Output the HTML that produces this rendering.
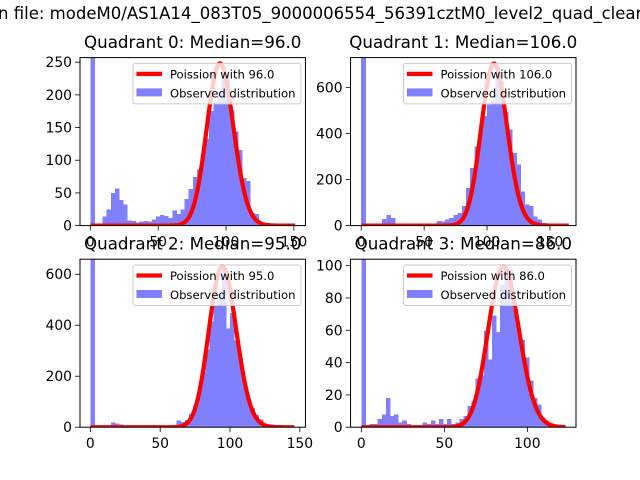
<!DOCTYPE html>
<html><head><meta charset="utf-8"><style>
html,body{margin:0;padding:0;background:#fff;}
svg{display:block;font-family:"DejaVu Sans","Liberation Sans",sans-serif;}
</style></head><body>
<svg id="fig" width="640" height="480" viewBox="0 0 640 480" xmlns="http://www.w3.org/2000/svg">
<rect width="640" height="480" fill="#fff"/>
<text x="-2" y="19" font-size="16.7" textLength="648" lengthAdjust="spacingAndGlyphs">n file: modeM0/AS1A14_083T05_9000006554_56391cztM0_level2_quad_clean</text>
</svg>
<script>
const titles = ["Quadrant 0: Median=96.0","Quadrant 1: Median=106.0","Quadrant 2: Median=95.0","Quadrant 3: Median=86.0"];
const medians = [96, 106, 95, 86];
const peaks = [248, 703, 631, 99.5];
const binWidths = [3.02, 3.33, 2.94, 2.46];
const curveMax = [151, 165, 146, 123];
const counts0 = [3000,0,0,14,25,50,57,39,32,8,7,5,6,7,6,9,14,16,15,12,23,18,25,41,56,74,86,106,133,175,190,205,225,230,176,144,116,73,68,19,18,0,0,0,0,0,0,0,0,0];
const counts1 = [3000,3,3,3,10,29,45,33,10,10,5,5,5,5,5,8,5,8,20,18,26,33,45,55,84,163,250,344,410,475,525,540,650,627,496,417,315,265,149,91,84,40,26,12,6,3,3,3,3,3];
const counts2 = [3000,2,2,2,5,18,14,10,3,3,3,3,3,3,3,3,3,3,3,3,6,26,20,29,52,85,133,216,305,415,477,523,620,388,448,340,272,166,114,75,48,30,13,8,4,2,2,2,2,2];
const counts3 = [3000,0,2,2,5,8,18,7,8,3,4,2,0,0,0,3,2,4,2,5,2,5,2,3,5,7,13,16,30,32,60,42,69,59,88,98,98,73,60,54,43,29,18,14,6,4,2,1,1,0];
const allCounts = [counts0, counts1, counts2, counts3];
const xlims = [[-7.6,158.5],[-8.5,170.7],[-7.4,154],[-6.5,129.3]];
const ylims = [257, 729, 659, 104];
const xticks = [[0,50,100,150],[0,50,100,150],[0,50,100,150],[0,50,100]];
const yticks = [[0,50,100,150,200,250],[0,200,400,600],[0,200,400,600],[0,20,40,60,80,100]];

const NS = "http://www.w3.org/2000/svg";
const svg = document.getElementById("fig");
function mk(tag, attrs, parent){const e=document.createElementNS(NS,tag);for(const k in attrs)e.setAttribute(k,attrs[k]);(parent||svg).appendChild(e);return e;}
const W=225.45,H=168;
const lefts=[80,350.55,80,350.55], tops=[57.6,57.6,259.2,259.2];
for(let q=0;q<4;q++){
  const L=lefts[q],T=tops[q];
  const [x0,x1]=xlims[q]; const ym=ylims[q];
  const sx=v=>L+(v-x0)/(x1-x0)*W;
  const sy=v=>T+H-v/ym*H;
  const g=mk("g",{});
  
  
  const cp=mk("clipPath",{id:"cp"+q},g); mk("rect",{x:L,y:T,width:W,height:H},cp);
  const bars=mk("g",{"clip-path":"url(#cp"+q+")","shape-rendering":"crispEdges"},g);
  const c=allCounts[q], bw=binWidths[q];
  for(let i=0;i<c.length;i++){
    if(c[i]<=0)continue;
    const xa=sx(i*bw), xb=sx((i+1)*bw);
    const r=mk("rect",{x:xa,y:sy(c[i]),width:xb-xa+0.5,height:sy(0)-sy(c[i]),fill:"#8080ff"},bars);
    
    
  }
  const mu=medians[q]; let p=Math.exp(-mu); const pts=[]; const ps=[p];
  for(let k=1;k<=curveMax[q];k++){p=p*mu/k;ps.push(p);}
  const pmax=Math.max(...ps);
  ps.forEach((v,k)=>pts.push(sx(k).toFixed(2)+","+sy(v/pmax*peaks[q]).toFixed(2)));
  const pl=mk("polyline",{points:pts.join(" "),fill:"none",stroke:"#ff0000","stroke-width":4.2,"stroke-linejoin":"round","clip-path":"url(#cp"+q+")"},g);
  
  
  const fr=mk("rect",{x:L,y:T,width:W,height:H,fill:"none",stroke:"#000","stroke-width":1},g);
  
  
  xticks[q].forEach(v=>{
    const x=sx(v);
    mk("line",{x1:x,x2:x,y1:T+H,y2:T+H+4.9,stroke:"#000","stroke-width":0.8},g);
    const t=mk("text",{x:x,y:T+H+21,"font-size":13.9,"text-anchor":"middle"},g); t.textContent=v;
    
    
  });
  yticks[q].forEach(v=>{
    const y=sy(v);
    mk("line",{x1:L-4.9,x2:L,y1:y,y2:y,stroke:"#000","stroke-width":0.8},g);
    const t=mk("text",{x:L-8,y:y+5,"font-size":13.9,"text-anchor":"end"},g); t.textContent=v;
    
    
  });
  const tt=mk("text",{x:L+W/2,y:T-9.5,"font-size":16.7,"text-anchor":"middle"},g); tt.textContent=titles[q];
  
  
  const lg=mk("g",{},g);
  
  
  const lx=L+W-172.5, ly=T+5.8;
  mk("rect",{x:lx,y:ly,width:168,height:40.5,rx:2.5,fill:"#fff","fill-opacity":0.8,stroke:"#cccccc","stroke-width":1},lg);
  mk("line",{x1:lx+3.5,x2:lx+29,y1:ly+10.5,y2:ly+10.5,stroke:"#ff0000","stroke-width":4.2},lg);
  const t1=mk("text",{x:lx+37,y:ly+15,"font-size":11.6},lg); t1.textContent="Poission with "+medians[q].toFixed(1);
  
  
  mk("rect",{x:lx+3.5,y:ly+25,width:25.5,height:8,fill:"#8080ff"},lg);
  const t2=mk("text",{x:lx+37,y:ly+34,"font-size":11.6},lg); t2.textContent="Observed distribution";
  
  
}
</script>
</body></html>
